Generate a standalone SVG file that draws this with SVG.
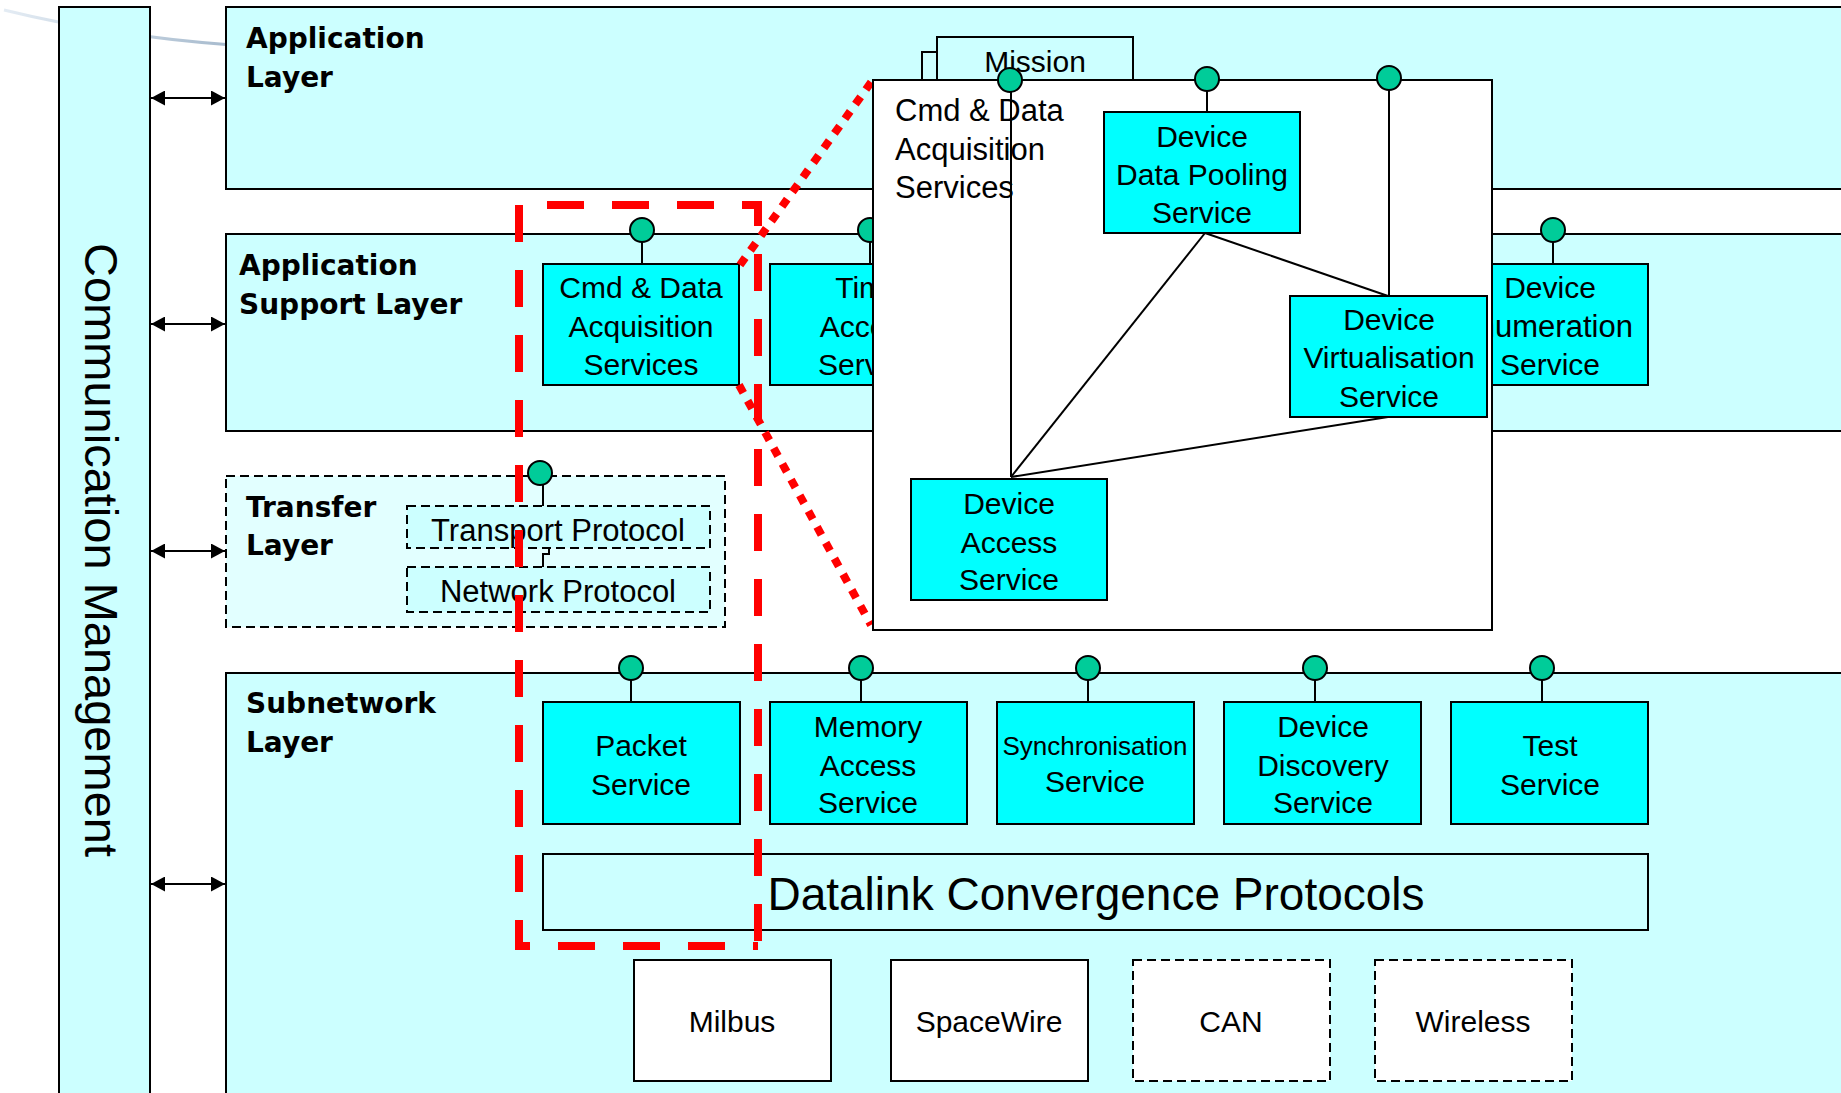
<svg xmlns="http://www.w3.org/2000/svg" width="1841" height="1093" viewBox="0 0 1841 1093">
  <defs>
    <style>
      .layer { fill: #CCFFFF; stroke: #000; stroke-width: 2; }
      .svc { fill: #00FFFF; stroke: #000; stroke-width: 2; }
      .phys { fill: #FFFFFF; stroke: #000; stroke-width: 2; }
      .dash { stroke-dasharray: 9 5; }
      .port { fill: #00CC99; stroke: #000; stroke-width: 2; }
      .wire { stroke: #000; stroke-width: 2; fill: none; }
      .lbl { font-family: "DejaVu Sans", Verdana, sans-serif; font-weight: bold; font-size: 28px; fill: #000; }
      .txt { font-family: "Liberation Sans", Arial, sans-serif; font-size: 30px; fill: #000; text-anchor: middle; }
      .left { text-anchor: start; }
      .hl { fill: none; stroke: #FF0000; stroke-width: 8; }
    </style>
    <marker id="ah" viewBox="0 0 14 15" refX="14" refY="7.5" markerWidth="14" markerHeight="15" markerUnits="userSpaceOnUse" orient="auto-start-reverse">
      <path d="M0,0 L14,7.5 L0,15 Z" fill="#000"/>
    </marker>
    <linearGradient id="swoosh" x1="0" y1="0" x2="1" y2="0">
      <stop offset="0" stop-color="#E4ECF4"/>
      <stop offset="1" stop-color="#A6BACD"/>
    </linearGradient>
  </defs>

  <rect width="1841" height="1093" fill="#FFFFFF"/>

  <!-- faint background swoosh -->
  <path d="M4,10 Q110,36 232,45" fill="none" stroke="url(#swoosh)" stroke-width="3"/>

  <!-- management column -->
  <g id="communication-management">
    <rect class="layer" x="59" y="7" width="91" height="1100"/>
    <text class="txt" style="font-size:47px" transform="translate(85,550) rotate(90)">Communication Management</text>
  </g>

  <!-- protocol layers -->
  <g id="application-layer">
    <rect class="layer" x="226" y="7" width="1630" height="182"/>
    <text class="lbl" x="246" y="48">Application</text>
    <text class="lbl" x="246" y="87">Layer</text>
  </g>

  <g id="application-support-layer">
    <rect class="layer" x="226" y="234" width="1630" height="197"/>
    <text class="lbl" x="239" y="275">Application</text>
    <text class="lbl" x="239" y="314">Support Layer</text>
  </g>

  <g id="transfer-layer">
    <rect x="226" y="476" width="499" height="151" fill="#E2FFFF" stroke="#000" stroke-width="2" class="dash"/>
    <text class="lbl" x="246" y="517">Transfer</text>
    <text class="lbl" x="246" y="555">Layer</text>
  </g>
  <g id="transport-protocol">
    <rect x="407" y="506" width="303" height="42" fill="#CCFFFF" stroke="#000" stroke-width="2" class="dash"/>
    <text class="txt" style="font-size:31px" x="558" y="541">Transport Protocol</text>
  </g>
  <g id="network-protocol">
    <rect x="407" y="567" width="303" height="45" fill="#CCFFFF" stroke="#000" stroke-width="2" class="dash"/>
    <text class="txt" style="font-size:31px" x="558" y="602">Network Protocol</text>
  </g>

  <g id="subnetwork-layer">
    <rect class="layer" x="226" y="673" width="1630" height="440"/>
    <text class="lbl" x="246" y="713">Subnetwork</text>
    <text class="lbl" x="246" y="752">Layer</text>
  </g>

  <!-- application support services -->
  <g id="cmd-data-acquisition">
    <rect class="svc" x="543" y="264" width="196" height="121"/>
    <text class="txt" x="641" y="298">Cmd &amp; Data</text>
    <text class="txt" x="641" y="337">Acquisition</text>
    <text class="txt" x="641" y="375">Services</text>
  </g>
  <g id="time-access">
    <rect class="svc" x="770" y="264" width="196" height="121"/>
    <text class="txt" x="868" y="298">Time</text>
    <text class="txt" x="868" y="337">Access</text>
    <text class="txt" x="868" y="375">Service</text>
  </g>
  <g id="device-enumeration">
    <rect class="svc" x="1452" y="264" width="196" height="121"/>
    <text class="txt" x="1550" y="298">Device</text>
    <text class="txt" style="font-size:31px" x="1545" y="337">Enumeration</text>
    <text class="txt" x="1550" y="375">Service</text>
  </g>

  <!-- subnetwork services -->
  <g id="packet-service">
    <rect class="svc" x="543" y="702" width="197" height="122"/>
    <text class="txt" x="641" y="756">Packet</text>
    <text class="txt" x="641" y="795">Service</text>
  </g>
  <g id="memory-access-service">
    <rect class="svc" x="770" y="702" width="197" height="122"/>
    <text class="txt" x="868" y="737">Memory</text>
    <text class="txt" x="868" y="776">Access</text>
    <text class="txt" x="868" y="813">Service</text>
  </g>
  <g id="synchronisation-service">
    <rect class="svc" x="997" y="702" width="197" height="122"/>
    <text class="txt" style="font-size:26px" x="1095" y="755">Synchronisation</text>
    <text class="txt" x="1095" y="792">Service</text>
  </g>
  <g id="device-discovery-service">
    <rect class="svc" x="1224" y="702" width="197" height="122"/>
    <text class="txt" x="1323" y="737">Device</text>
    <text class="txt" x="1323" y="776">Discovery</text>
    <text class="txt" x="1323" y="813">Service</text>
  </g>
  <g id="test-service">
    <rect class="svc" x="1451" y="702" width="197" height="122"/>
    <text class="txt" x="1550" y="756">Test</text>
    <text class="txt" x="1550" y="795">Service</text>
  </g>

  <g id="datalink-convergence">
    <rect class="layer" x="543" y="854" width="1105" height="76"/>
    <text class="txt" style="font-size:46px" x="1096" y="910">Datalink Convergence Protocols</text>
  </g>

  <!-- physical links -->
  <g id="milbus">
    <rect class="phys" x="634" y="960" width="197" height="121"/>
    <text class="txt" x="732" y="1032">Milbus</text>
  </g>
  <g id="spacewire">
    <rect class="phys" x="891" y="960" width="197" height="121"/>
    <text class="txt" x="989" y="1032">SpaceWire</text>
  </g>
  <g id="can">
    <rect class="phys dash" x="1133" y="960" width="197" height="121"/>
    <text class="txt" x="1231" y="1032">CAN</text>
  </g>
  <g id="wireless">
    <rect class="phys dash" x="1375" y="960" width="197" height="121"/>
    <text class="txt" x="1473" y="1032">Wireless</text>
  </g>

  <!-- connectors: management arrows, service access points -->
  <g id="connectors">
    <line class="wire" x1="151" y1="98" x2="225" y2="98" marker-start="url(#ah)" marker-end="url(#ah)"/>
    <line class="wire" x1="151" y1="324" x2="225" y2="324" marker-start="url(#ah)" marker-end="url(#ah)"/>
    <line class="wire" x1="151" y1="551" x2="225" y2="551" marker-start="url(#ah)" marker-end="url(#ah)"/>
    <line class="wire" x1="151" y1="884" x2="225" y2="884" marker-start="url(#ah)" marker-end="url(#ah)"/>

    <!-- application support SAPs -->
    <line class="wire" x1="642" y1="240" x2="642" y2="264"/>
    <circle class="port" cx="642" cy="230" r="12"/>
    <line class="wire" x1="870" y1="240" x2="870" y2="264"/>
    <circle class="port" cx="870" cy="230" r="12"/>
    <line class="wire" x1="1553" y1="240" x2="1553" y2="264"/>
    <circle class="port" cx="1553" cy="230" r="12"/>

    <!-- transfer SAP -->
    <line class="wire" x1="543" y1="484" x2="543" y2="506"/>
    <circle class="port" cx="540" cy="473" r="12"/>
    <path class="wire" d="M549,548 V554 H543 V567"/>

    <!-- subnetwork SAPs -->
    <line class="wire" x1="631" y1="678" x2="631" y2="702"/>
    <circle class="port" cx="631" cy="668" r="12"/>
    <line class="wire" x1="861" y1="678" x2="861" y2="702"/>
    <circle class="port" cx="861" cy="668" r="12"/>
    <line class="wire" x1="1088" y1="678" x2="1088" y2="702"/>
    <circle class="port" cx="1088" cy="668" r="12"/>
    <line class="wire" x1="1315" y1="678" x2="1315" y2="702"/>
    <circle class="port" cx="1315" cy="668" r="12"/>
    <line class="wire" x1="1542" y1="678" x2="1542" y2="702"/>
    <circle class="port" cx="1542" cy="668" r="12"/>
  </g>

  <!-- highlight of the selected service and its zoom lines -->
  <g id="highlight">
    <path class="hl" d="M758,946 H519 V205 H758 Z" stroke-dasharray="37 28" stroke-dashoffset="32"/>
    <line class="hl" x1="740" y1="265" x2="872" y2="81" stroke-dasharray="9 9"/>
    <line class="hl" x1="739" y1="385" x2="871" y2="625" stroke-dasharray="9 9"/>
  </g>

  <!-- mission tabs behind the detail panel -->
  <g id="mission">
    <rect class="layer" x="922" y="52" width="60" height="40"/>
    <rect class="layer" x="937" y="37" width="196" height="55"/>
    <text class="txt" x="1035" y="72">Mission</text>
  </g>

  <!-- detail panel of the Cmd & Data Acquisition Services -->
  <g id="cmd-data-detail">
    <rect x="873" y="80" width="619" height="550" fill="#FFFFFF" stroke="#000" stroke-width="2"/>
    <text class="txt left" style="font-size:31px" x="895" y="121">Cmd &amp; Data</text>
    <text class="txt left" style="font-size:31px" x="895" y="160">Acquisition</text>
    <text class="txt left" style="font-size:31px" x="895" y="198">Services</text>
  </g>

  <g id="detail-connectors">
    <line class="wire" x1="1011" y1="90" x2="1011" y2="477"/>
    <line class="wire" x1="1207" y1="90" x2="1207" y2="112"/>
    <line class="wire" x1="1389" y1="89" x2="1389" y2="296"/>
    <line class="wire" x1="1205" y1="233" x2="1388" y2="296"/>
    <line class="wire" x1="1205" y1="233" x2="1011" y2="477"/>
    <line class="wire" x1="1388" y1="417" x2="1011" y2="477"/>
  </g>

  <g id="device-data-pooling">
    <rect class="svc" x="1104" y="112" width="196" height="121"/>
    <text class="txt" x="1202" y="147">Device</text>
    <text class="txt" x="1202" y="185">Data Pooling</text>
    <text class="txt" x="1202" y="223">Service</text>
  </g>
  <g id="device-virtualisation">
    <rect class="svc" x="1290" y="296" width="197" height="121"/>
    <text class="txt" x="1389" y="330">Device</text>
    <text class="txt" x="1389" y="368">Virtualisation</text>
    <text class="txt" x="1389" y="407">Service</text>
  </g>
  <g id="device-access">
    <rect class="svc" x="911" y="479" width="196" height="121"/>
    <text class="txt" x="1009" y="514">Device</text>
    <text class="txt" x="1009" y="553">Access</text>
    <text class="txt" x="1009" y="590">Service</text>
  </g>

  <g id="detail-ports">
    <circle class="port" cx="1010" cy="80" r="12"/>
    <circle class="port" cx="1207" cy="79" r="12"/>
    <circle class="port" cx="1389" cy="78" r="12"/>
  </g>
</svg>
